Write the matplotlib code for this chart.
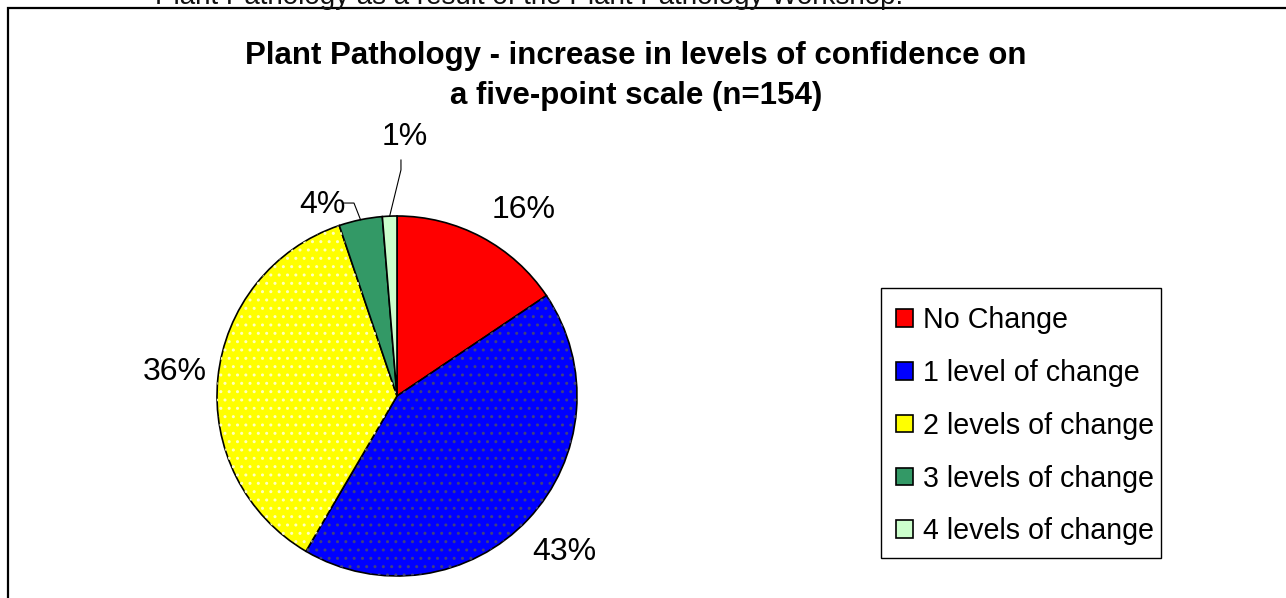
import matplotlib.pyplot as plt
from matplotlib.patches import Rectangle, Wedge
import numpy as np

plt.rcParams['font.family'] = ['Liberation Sans', 'DejaVu Sans']

# responses out of n=154
categories = ['No Change', '1 level of change', '2 levels of change',
              '3 levels of change', '4 levels of change']
counts = [24, 66, 56, 6, 2]
colors = ['#FF0000', '#0000FF', '#FFFF00', '#339966', '#CCFFCC']
dot_colors = [None, '#404080', '#FFFFC0', None, None]

title = 'Plant Pathology - increase in levels of confidence on\na five-point scale (n=154)'

W, H = 1286, 598
fig = plt.figure(figsize=(W / 100, H / 100), dpi=100)

# cut-off caption line above the chart frame
fig.text(155 / W, 1 - 4 / H, 'Plant Pathology as a result of the Plant Pathology Workshop.',
         fontsize=20, ha='left', va='baseline', color='#111111')

# chart frame
fig.patches.append(Rectangle((8 / W, -0.1), 1.2, 1.1 - 8 / H, transform=fig.transFigure,
                             fill=False, edgecolor='black', lw=1.6))

fig.text(636 / W, 1 - 76 / H, title, fontsize=22.5, fontweight='bold',
         ha='center', va='center', linespacing=1.45)

# pie axes: centre (397, 396), radius 180 px
R = 180
ax = fig.add_axes([(397 - R) / W, (H - 396 - R) / H, 2 * R / W, 2 * R / H])
wedges, _ = ax.pie(counts, colors=colors, startangle=90, counterclock=False,
                   wedgeprops=dict(edgecolor='black', linewidth=1.2))
ax.set_xlim(-1, 1)
ax.set_ylim(-1, 1)

# dotted fill on blue and yellow
for w, dc in zip(wedges, dot_colors):
    if dc:
        ax.add_patch(Wedge(w.center, w.r, w.theta1, w.theta2, facecolor='none',
                           edgecolor=dc, lw=0, hatch='..'))

total = sum(counts)
pcts = ['%d%%' % round(100 * c / total) for c in counts]
# label placement (radius, angle in degrees) in the Excel style
label_pos = [(1.25, 55.7), (1.27, -42.9), (1.24, 173.8), (1.14, 111.4), (1.44, 88.2)]
for i, (p, (r, a)) in enumerate(zip(pcts, label_pos)):
    x, y = r * np.cos(np.radians(a)), r * np.sin(np.radians(a))
    ax.text(x, y, p, fontsize=23, ha='center', va='center')

# leader lines for the two small slices
for i, (start, knee) in {3: ((-0.30, 1.072), (-0.239, 1.072)),
                         4: ((0.022, 1.311), (0.022, 1.256))}.items():
    w = wedges[i]
    mid = np.radians((w.theta1 + w.theta2) / 2)
    ex, ey = np.cos(mid), np.sin(mid)
    ax.plot([start[0], knee[0], ex], [start[1], knee[1], ey], color='black',
            lw=0.8, clip_on=False)

# legend box drawn separately so its padding can be uneven like the original
fig.patches.append(Rectangle((881 / W, 1 - 558 / H), 280 / W, 270 / H,
                             transform=fig.transFigure, fill=False,
                             edgecolor='black', lw=1.0))
leg = fig.legend(wedges, categories, loc='upper left',
                 bbox_to_anchor=(896 / W, 1 - 306 / H), fontsize=20.6,
                 frameon=False, handlelength=0.58, handleheight=0.58,
                 handletextpad=0.35, labelspacing=0.868, borderpad=0,
                 borderaxespad=0)

fig.savefig('out.png', dpi=100)
